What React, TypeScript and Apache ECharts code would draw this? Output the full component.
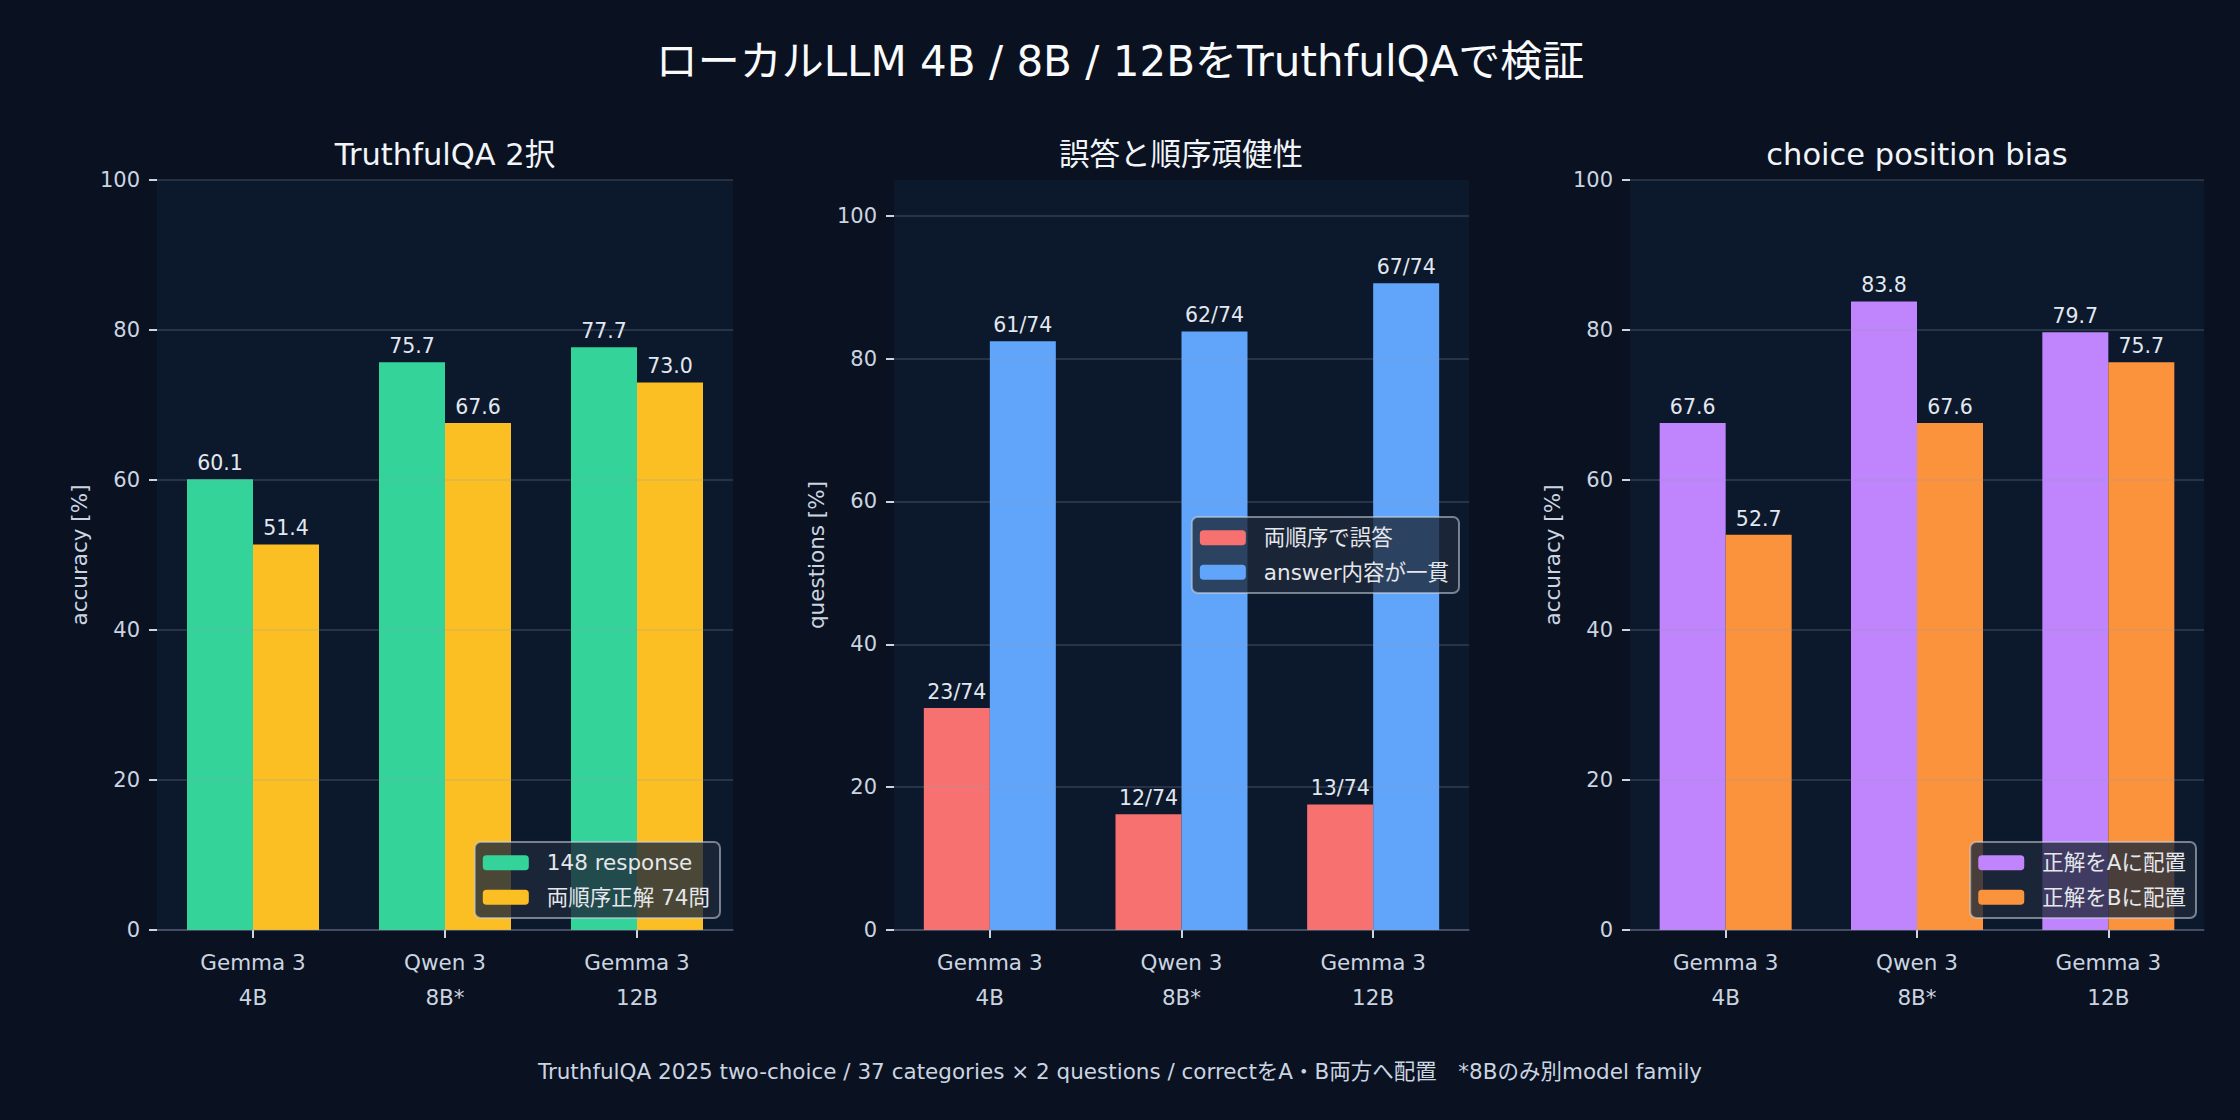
// TruthfulQA 2択でローカルLLM 3モデルを比べる3パネルの棒グラフ
import { useEffect, useRef } from 'react'
import * as echarts from 'echarts'

const MODELOS = ['Gemma 3\n4B', 'Qwen 3\n8B*', 'Gemma 3\n12B']

// パネル1: TruthfulQA 2択
const RESPOSTA_148 = [60.1, 75.7, 77.7]
const AMBAS_CORRETAS = [51.4, 67.6, 73.0]

// パネル2: 誤答と順序頑健性 (件数 / 74問)
const TOTAL_QUESTOES = 74
const ERRO_AMBAS = [23, 12, 13]
const CONSISTENTE = [61, 62, 67]

// パネル3: choice position bias
const CORRETA_EM_A = [67.6, 83.8, 79.7]
const CORRETA_EM_B = [52.7, 67.6, 75.7]

const TICKS_Y = [0, 20, 40, 60, 80, 100]

const FONTE = 'DejaVu Sans, "Noto Sans CJK JP", sans-serif'
const FUNDO = '#0a1120'
const FUNDO_PLOT = '#0c182b'
const TEXTO = '#cbd5e1'
const GRADE = 'rgba(148,163,184,0.28)'

const GRIDS = [
  { left: 157, width: 576 },
  { left: 894, width: 575 },
  { left: 1630, width: 574 },
]

const pct = (n: number) => (n / TOTAL_QUESTOES) * 100

function eixoX(gridIndex: number) {
  return {
    type: 'category',
    gridIndex,
    data: MODELOS,
    axisLine: { show: true, lineStyle: { color: 'rgba(148,163,184,0.35)', width: 1.5 } },
    axisTick: { show: true, alignWithLabel: true, length: 8, lineStyle: { color: TEXTO, width: 2 } },
    axisLabel: { color: TEXTO, fontSize: 21.5, lineHeight: 35, margin: 15, fontFamily: FONTE },
  }
}

function eixoY(gridIndex: number, max: number, nome: string) {
  return {
    type: 'value',
    gridIndex,
    min: 0,
    max,
    interval: 20,
    z: 3,
    name: nome,
    nameLocation: 'middle',
    nameGap: 67,
    nameTextStyle: { color: TEXTO, fontSize: 21.5, fontFamily: FONTE },
    axisLine: { show: false },
    axisTick: { show: true, length: 8, lineStyle: { color: TEXTO, width: 2 }, customValues: TICKS_Y },
    axisLabel: { color: TEXTO, fontSize: 21, margin: 17, fontFamily: FONTE, customValues: TICKS_Y },
    splitLine: { show: true, lineStyle: { color: GRADE, width: 1.5 } },
  }
}

function serie(nome: string, cor: string, idx: number, dados: number[], rotulos: string[]) {
  return {
    type: 'bar',
    name: nome,
    xAxisIndex: idx,
    yAxisIndex: idx,
    data: dados,
    barWidth: 66,
    barGap: '0%',
    itemStyle: { color: cor },
    label: {
      show: true,
      position: 'top',
      distance: 6,
      color: '#e2e8f0',
      fontSize: 20.5,
      fontFamily: FONTE,
      formatter: (p: { dataIndex: number }) => rotulos[p.dataIndex],
    },
  }
}

function legenda(dados: string[], pos: Record<string, number>) {
  return {
    data: dados,
    orient: 'vertical',
    ...pos,
    z: 10,
    itemWidth: 46,
    itemHeight: 15,
    itemGap: 13,
    padding: [10, 10, 10, 8],
    backgroundColor: 'rgba(30,41,59,0.8)',
    borderColor: 'rgba(203,213,225,0.55)',
    borderWidth: 2,
    borderRadius: 6,
    textStyle: { color: '#e5e7eb', fontSize: 21.5, fontFamily: FONTE, padding: [0, 0, 0, 13] },
  }
}

function texto(t: string, x: number, y: number, tamanho: number, cor: string) {
  return {
    type: 'text',
    x,
    y,
    style: { text: t, fill: cor, fontSize: tamanho, fontFamily: FONTE, align: 'center', verticalAlign: 'middle' },
  }
}

export default function App() {
  const ref = useRef<HTMLDivElement>(null)

  useEffect(() => {
    if (!ref.current) return
    const chart = echarts.init(ref.current, null, { renderer: 'svg' })
    const fmt = (v: number[]) => v.map((x) => x.toFixed(1))
    const fmtN = (v: number[]) => v.map((x) => `${x}/${TOTAL_QUESTOES}`)

    chart.setOption({
      animation: false,
      backgroundColor: FUNDO,
      textStyle: { fontFamily: FONTE },
      grid: GRIDS.map((g) => ({
        ...g,
        top: 180,
        height: 750,
        show: true,
        backgroundColor: FUNDO_PLOT,
        borderWidth: 0,
      })),
      xAxis: [eixoX(0), eixoX(1), eixoX(2)],
      yAxis: [eixoY(0, 100, 'accuracy [%]'), eixoY(1, 105, 'questions [%]'), eixoY(2, 100, 'accuracy [%]')],
      legend: [
        legenda(['148 response', '両順序正解 74問'], { right: 1520, bottom: 202 }),
        legenda(['両順序で誤答', 'answer内容が一貫'], { right: 781, top: 517 }),
        legenda(['正解をAに配置', '正解をBに配置'], { right: 44, bottom: 202 }),
      ],
      series: [
        serie('148 response', '#34d399', 0, RESPOSTA_148, fmt(RESPOSTA_148)),
        serie('両順序正解 74問', '#fbbf24', 0, AMBAS_CORRETAS, fmt(AMBAS_CORRETAS)),
        serie('両順序で誤答', '#f87171', 1, ERRO_AMBAS.map(pct), fmtN(ERRO_AMBAS)),
        serie('answer内容が一貫', '#60a5fa', 1, CONSISTENTE.map(pct), fmtN(CONSISTENTE)),
        serie('正解をAに配置', '#c084fc', 2, CORRETA_EM_A, fmt(CORRETA_EM_A)),
        serie('正解をBに配置', '#fb923c', 2, CORRETA_EM_B, fmt(CORRETA_EM_B)),
      ],
      graphic: [
        texto('ローカルLLM 4B / 8B / 12BをTruthfulQAで検証', 1120, 61, 42, '#f8fafc'),
        texto('TruthfulQA 2択', 445, 154, 30.5, '#f1f5f9'),
        texto('誤答と順序頑健性', 1181, 154, 30.5, '#f1f5f9'),
        texto('choice position bias', 1917, 154, 30.5, '#f1f5f9'),
        texto(
          'TruthfulQA 2025 two-choice / 37 categories × 2 questions / correctをA・B両方へ配置　*8Bのみ別model family',
          1120,
          1071,
          21.5,
          TEXTO,
        ),
      ],
    })

    return () => chart.dispose()
  }, [])

  return <div ref={ref} style={{ position: 'fixed', left: 0, top: 0, width: 2240, height: 1120 }} />
}
